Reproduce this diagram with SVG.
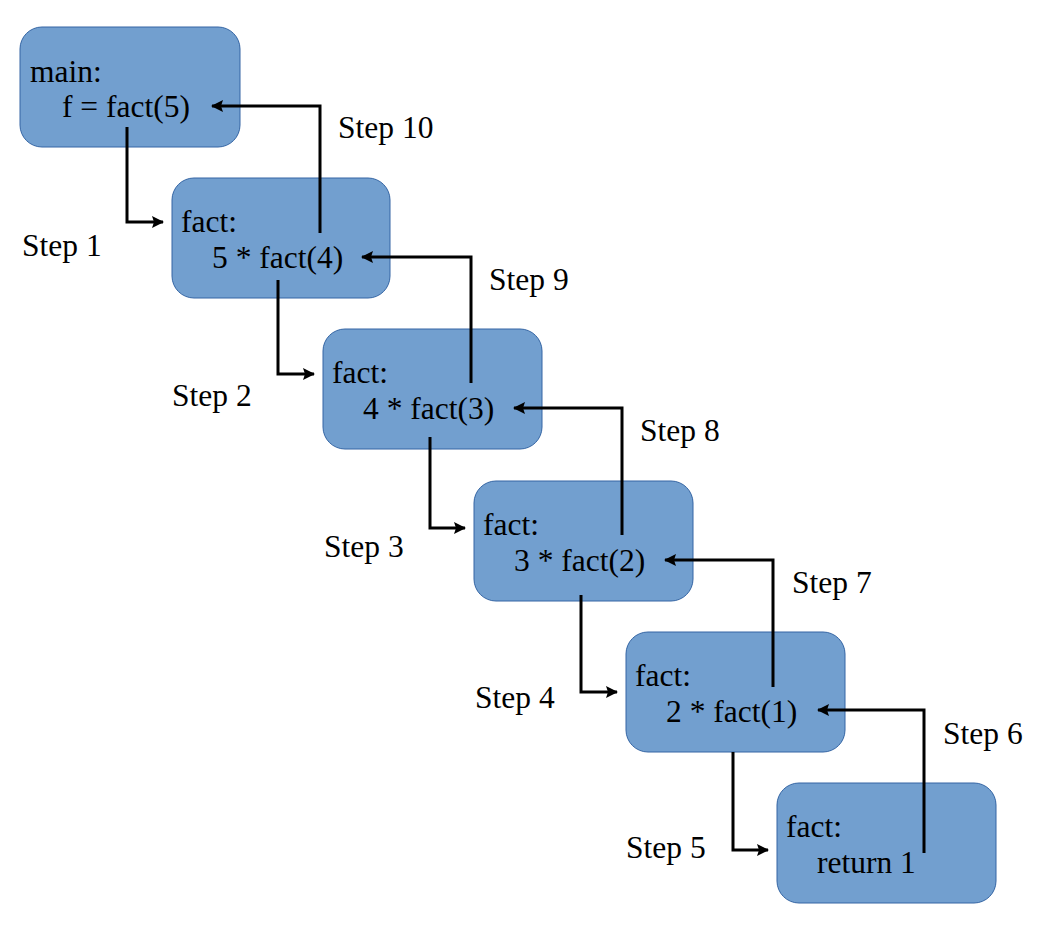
<svg xmlns="http://www.w3.org/2000/svg" width="1046" height="930" viewBox="0 0 1046 930">
<style>
.box{fill:#729fcf;stroke:#3465a4;stroke-width:1}
.t{font-family:"Liberation Serif","Times New Roman",serif;font-size:31.5px;fill:#000}
.c{fill:none;stroke:#000;stroke-width:3;marker-end:url(#ah)}
</style>
<defs>
<marker id="ah" markerWidth="12" markerHeight="12" refX="11" refY="6" orient="auto" markerUnits="userSpaceOnUse">
<path d="M0,0 L12,6 L0,12 L2,6 z" fill="#000"/>
</marker>
</defs>
<rect width="1046" height="930" fill="#fff"/>
<g id="n1"><rect class="box" x="20" y="27" width="220" height="120" rx="22"/><text class="t" x="30" y="82">main:</text><text class="t" x="62" y="117">f = fact(5)</text></g>
<g id="n2"><rect class="box" x="172" y="178" width="218" height="120" rx="22"/><text class="t" x="181" y="232">fact:</text><text class="t" x="212" y="268">5 * fact(4)</text></g>
<g id="n3"><rect class="box" x="323" y="329" width="219" height="120" rx="22"/><text class="t" x="332" y="383">fact:</text><text class="t" x="363" y="419">4 * fact(3)</text></g>
<g id="n4"><rect class="box" x="474" y="481" width="219" height="120" rx="22"/><text class="t" x="483" y="535">fact:</text><text class="t" x="514" y="571">3 * fact(2)</text></g>
<g id="n5"><rect class="box" x="626" y="632" width="219" height="120" rx="22"/><text class="t" x="635" y="686">fact:</text><text class="t" x="666" y="722">2 * fact(1)</text></g>
<g id="n6"><rect class="box" x="777" y="783" width="219" height="120" rx="22"/><text class="t" x="786" y="837">fact:</text><text class="t" x="817" y="873">return 1</text></g>
<g id="connectors">
<path class="c" d="M127,127 V222 H163"/>
<path class="c" d="M278,280 V374 H314"/>
<path class="c" d="M430,437 V528 H465"/>
<path class="c" d="M581,595 V692 H617"/>
<path class="c" d="M733,752 V850 H768"/>
<path class="c" d="M320,233 V106 H212"/>
<path class="c" d="M471,383 V257 H362"/>
<path class="c" d="M622,535 V408 H514"/>
<path class="c" d="M773,687 V560 H665"/>
<path class="c" d="M924,853 V710 H818"/>
</g>
<g id="labels">
<text class="t" x="22" y="256">Step 1</text>
<text class="t" x="172" y="406">Step 2</text>
<text class="t" x="324" y="557">Step 3</text>
<text class="t" x="475" y="708">Step 4</text>
<text class="t" x="626" y="858">Step 5</text>
<text class="t" x="943" y="744">Step 6</text>
<text class="t" x="792" y="593">Step 7</text>
<text class="t" x="640" y="441">Step 8</text>
<text class="t" x="489" y="290">Step 9</text>
<text class="t" x="338" y="138">Step 10</text>
</g>
</svg>
